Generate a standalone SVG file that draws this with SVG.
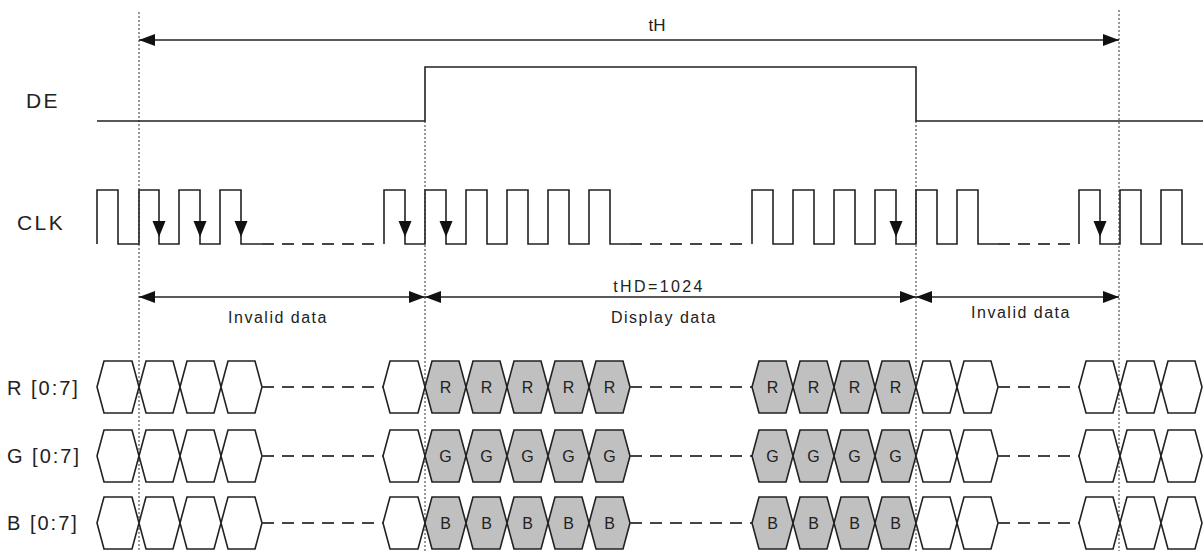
<svg xmlns="http://www.w3.org/2000/svg" width="1203" height="551" viewBox="0 0 1203 551">
<style>
.bg{fill:#ffffff}
.sig{fill:none;stroke:#222;stroke-width:1.6;stroke-linejoin:miter}
.dash{fill:none;stroke:#444;stroke-width:1.8;stroke-dasharray:12 8}
.guide{fill:none;stroke:#555;stroke-width:1.2;stroke-dasharray:2 2}
.dim{fill:none;stroke:#222;stroke-width:1.6}
.cw{fill:#ffffff;stroke:#222;stroke-width:1.6}
.cg{fill:#c0c0c0;stroke:#222;stroke-width:1.6}
.ah{fill:#111;stroke:none}
.lbl{font-family:"Liberation Sans",Arial,sans-serif;fill:#222}
.big{font-size:21px;letter-spacing:2.4px}
.row{font-size:20px;letter-spacing:2px}
.small{font-size:16px;letter-spacing:1.5px;text-anchor:middle}
.cell{font-family:"Liberation Sans",Arial,sans-serif;font-size:16px;fill:#222;text-anchor:middle}
</style>
<defs>
<marker id="arr" viewBox="0 0 16 12" markerWidth="16" markerHeight="12" refX="16" refY="6" orient="auto-start-reverse" markerUnits="userSpaceOnUse">
<path d="M0,0 L16,6 L0,12 Z" fill="#111"/>
</marker>
</defs>
<rect class="bg" x="0" y="0" width="1203" height="551"/>

<g id="guides">
<line class="guide" x1="139" y1="12" x2="139" y2="551"/>
<line class="guide" x1="425" y1="121" x2="425" y2="551"/>
<line class="guide" x1="916" y1="121" x2="916" y2="551"/>
<line class="guide" x1="1119" y1="10" x2="1119" y2="551"/>
</g>

<g id="DE">
<text class="lbl big" x="26" y="108">DE</text>
<path class="sig" d="M97,121 H425 V67 H916 V121 H1203"/>
</g>

<g id="CLK">
<text class="lbl big" x="17" y="230">CLK</text>
<path class="sig" d="M97,244 V190 H118 V244 H139 V190 H159 V244 H179 V190 H200 V244 H220 V190 H241 V244 H262"/>
<line class="dash" x1="262" y1="244" x2="380" y2="244"/>
<path class="sig" d="M384,244 V190 H405 V244 H425 V190 H446 V244 H466 V190 H487 V244 H507 V190 H528 V244 H548 V190 H569 V244 H589 V190 H610 V244 H630"/>
<line class="dash" x1="630" y1="244" x2="748" y2="244"/>
<path class="sig" d="M752,244 V190 H773 V244 H793 V190 H814 V244 H834 V190 H855 V244 H875 V190 H896 V244 H916 V190 H937 V244 H957 V190 H978 V244 H998"/>
<line class="dash" x1="998" y1="244" x2="1075" y2="244"/>
<path class="sig" d="M1079,244 V190 H1100 V244 H1120 V190 H1141 V244 H1161 V190 H1182 V244 H1203"/>
<g id="clk-arrows">
<path class="ah" d="M152.5,221 H165.5 L159,237 Z"/>
<path class="ah" d="M193.5,221 H206.5 L200,237 Z"/>
<path class="ah" d="M234.5,221 H247.5 L241,237 Z"/>
<path class="ah" d="M398.5,221 H411.5 L405,237 Z"/>
<path class="ah" d="M439.5,221 H452.5 L446,237 Z"/>
<path class="ah" d="M889.5,221 H902.5 L896,237 Z"/>
<path class="ah" d="M1093.5,221 H1106.5 L1100,237 Z"/>
</g>
</g>

<g id="R">
<text class="lbl row" x="7" y="395">R [0:7]</text>
<polygon class="cw" points="97,387 104,361 132,361 139,387 132,413 104,413"/>
<polygon class="cw" points="139,387 146,361 173,361 180,387 173,413 146,413"/>
<polygon class="cw" points="180,387 187,361 214,361 221,387 214,413 187,413"/>
<polygon class="cw" points="221,387 228,361 255,361 262,387 255,413 228,413"/>
<line class="dash" x1="262" y1="387" x2="383" y2="387"/>
<polygon class="cw" points="383,387 390,361 418,361 425,387 418,413 390,413"/>
<polygon class="cg" points="425,387 432,361 459,361 466,387 459,413 432,413"/>
<polygon class="cg" points="466,387 473,361 500,361 507,387 500,413 473,413"/>
<polygon class="cg" points="507,387 514,361 541,361 548,387 541,413 514,413"/>
<polygon class="cg" points="548,387 555,361 582,361 589,387 582,413 555,413"/>
<polygon class="cg" points="589,387 596,361 623,361 630,387 623,413 596,413"/>
<line class="dash" x1="630" y1="387" x2="752" y2="387"/>
<polygon class="cg" points="752,387 759,361 786,361 793,387 786,413 759,413"/>
<polygon class="cg" points="793,387 800,361 827,361 834,387 827,413 800,413"/>
<polygon class="cg" points="834,387 841,361 868,361 875,387 868,413 841,413"/>
<polygon class="cg" points="875,387 882,361 909,361 916,387 909,413 882,413"/>
<polygon class="cw" points="916,387 923,361 950,361 957,387 950,413 923,413"/>
<polygon class="cw" points="957,387 964,361 991,361 998,387 991,413 964,413"/>
<line class="dash" x1="998" y1="387" x2="1079" y2="387"/>
<polygon class="cw" points="1079,387 1086,361 1113,361 1120,387 1113,413 1086,413"/>
<polygon class="cw" points="1120,387 1127,361 1154,361 1161,387 1154,413 1127,413"/>
<polygon class="cw" points="1161,387 1168,361 1195,361 1202,387 1195,413 1168,413"/>
<text class="cell" x="445.5" y="393">R</text>
<text class="cell" x="486.5" y="393">R</text>
<text class="cell" x="527.5" y="393">R</text>
<text class="cell" x="568.5" y="393">R</text>
<text class="cell" x="609.5" y="393">R</text>
<text class="cell" x="772.5" y="393">R</text>
<text class="cell" x="813.5" y="393">R</text>
<text class="cell" x="854.5" y="393">R</text>
<text class="cell" x="895.5" y="393">R</text>
</g>

<g id="G">
<text class="lbl row" x="7" y="463">G [0:7]</text>
<polygon class="cw" points="97,456 104,430 132,430 139,456 132,482 104,482"/>
<polygon class="cw" points="139,456 146,430 173,430 180,456 173,482 146,482"/>
<polygon class="cw" points="180,456 187,430 214,430 221,456 214,482 187,482"/>
<polygon class="cw" points="221,456 228,430 255,430 262,456 255,482 228,482"/>
<line class="dash" x1="262" y1="456" x2="383" y2="456"/>
<polygon class="cw" points="383,456 390,430 418,430 425,456 418,482 390,482"/>
<polygon class="cg" points="425,456 432,430 459,430 466,456 459,482 432,482"/>
<polygon class="cg" points="466,456 473,430 500,430 507,456 500,482 473,482"/>
<polygon class="cg" points="507,456 514,430 541,430 548,456 541,482 514,482"/>
<polygon class="cg" points="548,456 555,430 582,430 589,456 582,482 555,482"/>
<polygon class="cg" points="589,456 596,430 623,430 630,456 623,482 596,482"/>
<line class="dash" x1="630" y1="456" x2="752" y2="456"/>
<polygon class="cg" points="752,456 759,430 786,430 793,456 786,482 759,482"/>
<polygon class="cg" points="793,456 800,430 827,430 834,456 827,482 800,482"/>
<polygon class="cg" points="834,456 841,430 868,430 875,456 868,482 841,482"/>
<polygon class="cg" points="875,456 882,430 909,430 916,456 909,482 882,482"/>
<polygon class="cw" points="916,456 923,430 950,430 957,456 950,482 923,482"/>
<polygon class="cw" points="957,456 964,430 991,430 998,456 991,482 964,482"/>
<line class="dash" x1="998" y1="456" x2="1079" y2="456"/>
<polygon class="cw" points="1079,456 1086,430 1113,430 1120,456 1113,482 1086,482"/>
<polygon class="cw" points="1120,456 1127,430 1154,430 1161,456 1154,482 1127,482"/>
<polygon class="cw" points="1161,456 1168,430 1195,430 1202,456 1195,482 1168,482"/>
<text class="cell" x="445.5" y="462">G</text>
<text class="cell" x="486.5" y="462">G</text>
<text class="cell" x="527.5" y="462">G</text>
<text class="cell" x="568.5" y="462">G</text>
<text class="cell" x="609.5" y="462">G</text>
<text class="cell" x="772.5" y="462">G</text>
<text class="cell" x="813.5" y="462">G</text>
<text class="cell" x="854.5" y="462">G</text>
<text class="cell" x="895.5" y="462">G</text>
</g>

<g id="B">
<text class="lbl row" x="7" y="530">B [0:7]</text>
<polygon class="cw" points="97,523 104,497 132,497 139,523 132,549 104,549"/>
<polygon class="cw" points="139,523 146,497 173,497 180,523 173,549 146,549"/>
<polygon class="cw" points="180,523 187,497 214,497 221,523 214,549 187,549"/>
<polygon class="cw" points="221,523 228,497 255,497 262,523 255,549 228,549"/>
<line class="dash" x1="262" y1="523" x2="383" y2="523"/>
<polygon class="cw" points="383,523 390,497 418,497 425,523 418,549 390,549"/>
<polygon class="cg" points="425,523 432,497 459,497 466,523 459,549 432,549"/>
<polygon class="cg" points="466,523 473,497 500,497 507,523 500,549 473,549"/>
<polygon class="cg" points="507,523 514,497 541,497 548,523 541,549 514,549"/>
<polygon class="cg" points="548,523 555,497 582,497 589,523 582,549 555,549"/>
<polygon class="cg" points="589,523 596,497 623,497 630,523 623,549 596,549"/>
<line class="dash" x1="630" y1="523" x2="752" y2="523"/>
<polygon class="cg" points="752,523 759,497 786,497 793,523 786,549 759,549"/>
<polygon class="cg" points="793,523 800,497 827,497 834,523 827,549 800,549"/>
<polygon class="cg" points="834,523 841,497 868,497 875,523 868,549 841,549"/>
<polygon class="cg" points="875,523 882,497 909,497 916,523 909,549 882,549"/>
<polygon class="cw" points="916,523 923,497 950,497 957,523 950,549 923,549"/>
<polygon class="cw" points="957,523 964,497 991,497 998,523 991,549 964,549"/>
<line class="dash" x1="998" y1="523" x2="1079" y2="523"/>
<polygon class="cw" points="1079,523 1086,497 1113,497 1120,523 1113,549 1086,549"/>
<polygon class="cw" points="1120,523 1127,497 1154,497 1161,523 1154,549 1127,549"/>
<polygon class="cw" points="1161,523 1168,497 1195,497 1202,523 1195,549 1168,549"/>
<text class="cell" x="445.5" y="529">B</text>
<text class="cell" x="486.5" y="529">B</text>
<text class="cell" x="527.5" y="529">B</text>
<text class="cell" x="568.5" y="529">B</text>
<text class="cell" x="609.5" y="529">B</text>
<text class="cell" x="772.5" y="529">B</text>
<text class="cell" x="813.5" y="529">B</text>
<text class="cell" x="854.5" y="529">B</text>
<text class="cell" x="895.5" y="529">B</text>
</g>

<g id="connectors">
<line class="dim" x1="139" y1="40" x2="1119" y2="40" marker-start="url(#arr)" marker-end="url(#arr)"/>
<line class="dim" x1="139" y1="297" x2="425" y2="297" marker-start="url(#arr)" marker-end="url(#arr)"/>
<line class="dim" x1="425" y1="297" x2="916" y2="297" marker-start="url(#arr)" marker-end="url(#arr)"/>
<line class="dim" x1="916" y1="297" x2="1119" y2="297" marker-start="url(#arr)" marker-end="url(#arr)"/>
</g>

<g id="labels">
<text class="lbl" x="657" y="31" style="font-size:17px;text-anchor:middle">tH</text>
<text class="lbl small" x="659" y="292" style="letter-spacing:2.4px">tHD=1024</text>
<text class="lbl small" x="664" y="323">Display data</text>
<text class="lbl small" x="278" y="323">Invalid data</text>
<text class="lbl small" x="1021" y="318">Invalid data</text>
</g>
</svg>
